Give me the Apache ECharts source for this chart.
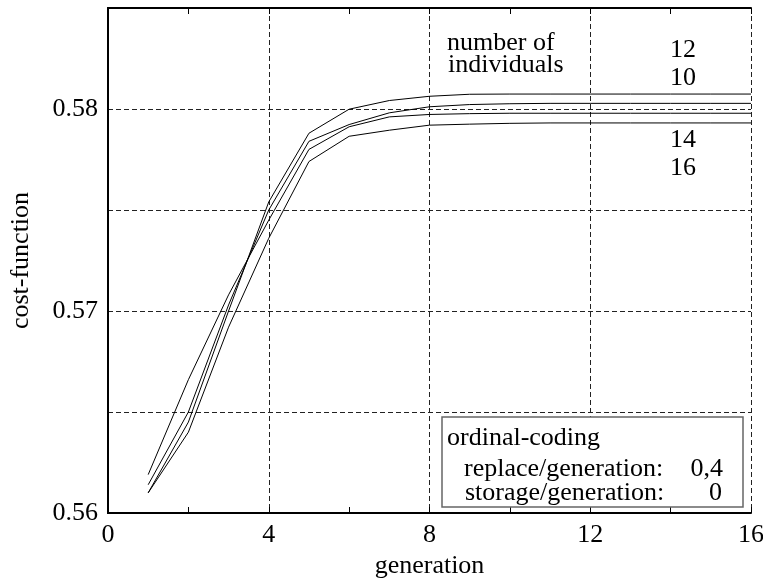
<!DOCTYPE html>
<html>
<head>
<meta charset="utf-8">
<script src="https://cdn.jsdelivr.net/npm/echarts@6/dist/echarts.min.js"></script>
<style>
  html, body { margin: 0; padding: 0; background: #fff; }
  #chart { width: 763px; height: 578px; }
</style>
</head>
<body>
<div id="chart"></div>
<script>
// generations on the x axis
var generations = [1, 2, 3, 4, 5, 6, 7, 8, 9, 10, 11, 12, 13, 14, 15, 16];

// cost-function per number of individuals
var ind12 = [0.5610, 0.5645, 0.5700, 0.5754, 0.5788, 0.57999, 0.58042, 0.58063, 0.58073, 0.58074, 0.58074, 0.58074, 0.58074, 0.58074, 0.58074, 0.58074];
var ind10 = [0.5614, 0.5650, 0.5703, 0.5750, 0.5784, 0.57923, 0.57981, 0.58011, 0.58022, 0.58026, 0.58028, 0.58028, 0.58028, 0.58028, 0.58028, 0.58028];
var ind14 = [0.5619, 0.5666, 0.5708, 0.5745, 0.5780, 0.57912, 0.57961, 0.57973, 0.57977, 0.57979, 0.57979, 0.57979, 0.57979, 0.57979, 0.57979, 0.57979];
var ind16 = [0.5610, 0.5640, 0.5692, 0.5736, 0.5774, 0.57865, 0.57895, 0.57920, 0.57925, 0.57929, 0.57931, 0.57931, 0.57931, 0.57931, 0.57931, 0.57931];

var seriesNames = ['12', '10', '14', '16'];
var seriesValues = [ind12, ind10, ind14, ind16];

var font = '"Liberation Serif", "Times New Roman", serif';
var fs = 26;

function pairs(vals) {
    return generations.map(function (g, i) { return [g, vals[i]]; });
}

function label(txt, x, y, align) {
    return {
        type: 'text', x: x, y: y, z: 11,
        style: { text: txt, font: fs + 'px ' + font, fill: '#000', align: align || 'left', verticalAlign: 'middle' }
    };
}

var myChart = echarts.init(document.getElementById('chart'), null, { renderer: 'canvas' });

var axisLineStyle = { color: '#000', width: 2 };
var dash = { color: '#222', width: 1, type: [5, 3] };

var option = {
    animation: false,
    backgroundColor: '#fff',
    grid: { left: 108, right: 12, top: 8, bottom: 65, containLabel: false, outerBoundsMode: 'none' },
    xAxis: [
        {
            type: 'value', min: 0, max: 16, interval: 4, position: 'bottom',
            axisLine: { show: true, lineStyle: axisLineStyle },
            axisTick: { show: true, inside: true, length: 6, lineStyle: { color: '#000' } },
            minorTick: { show: true, splitNumber: 2, length: 6, lineStyle: { color: '#000' } },
            axisLabel: { color: '#000', fontFamily: font, fontSize: fs, margin: 9 },
            splitLine: { show: true, lineStyle: dash },
            name: 'generation', nameLocation: 'middle', nameGap: 40,
            nameTextStyle: { color: '#000', fontFamily: font, fontSize: fs }
        },
        {
            type: 'value', min: 0, max: 16, interval: 4, position: 'top',
            axisLine: { show: true, lineStyle: axisLineStyle },
            axisTick: { show: true, inside: true, length: 6, lineStyle: { color: '#000' } },
            minorTick: { show: true, splitNumber: 2, length: 6, lineStyle: { color: '#000' } },
            axisLabel: { show: false },
            splitLine: { show: false }
        }
    ],
    yAxis: [
        {
            type: 'value', min: 0.56, max: 0.585, interval: 0.005,
            axisLine: { show: true, lineStyle: axisLineStyle },
            axisTick: { show: false },
            axisLabel: {
                color: '#000', fontFamily: font, fontSize: fs, margin: 10,
                formatter: function (v) {
                    var k = Math.round(v * 1000);
                    return k % 10 === 0 ? (k / 1000).toFixed(2) : '';
                }
            },
            splitLine: { show: true, lineStyle: dash },
            name: 'cost-function', nameLocation: 'middle', nameGap: 74, nameRotate: 90,
            nameTextStyle: { color: '#000', fontFamily: font, fontSize: fs }
        },
        {
            type: 'value', min: 0.56, max: 0.585, interval: 0.005, position: 'right',
            axisLine: { show: true, lineStyle: axisLineStyle },
            axisTick: { show: false },
            axisLabel: { show: false },
            splitLine: { show: false }
        }
    ],
    series: seriesValues.map(function (vals, i) {
        return {
            name: seriesNames[i],
            type: 'line',
            data: pairs(vals),
            symbol: 'none',
            lineStyle: { color: '#000', width: 1 },
            z: 3
        };
    }),
    graphic: [
        label('number of', 447, 43),
        label('individuals', 448, 65),
        label('12', 683, 50, 'center'),
        label('10', 683, 78, 'center'),
        label('14', 683, 140, 'center'),
        label('16', 683, 168, 'center'),
        {
            type: 'rect', shape: { x: 442, y: 417, width: 301, height: 90 },
            style: { fill: '#fff', stroke: '#666', lineWidth: 1.5 }, z: 10
        },
        label('ordinal-coding', 447, 438),
        label('replace/generation:', 464, 469),
        label('0,4', 723, 469, 'right'),
        label('storage/generation:', 465, 493),
        label('0', 722, 493, 'right')
    ]
};

myChart.setOption(option);
</script>
</body>
</html>
